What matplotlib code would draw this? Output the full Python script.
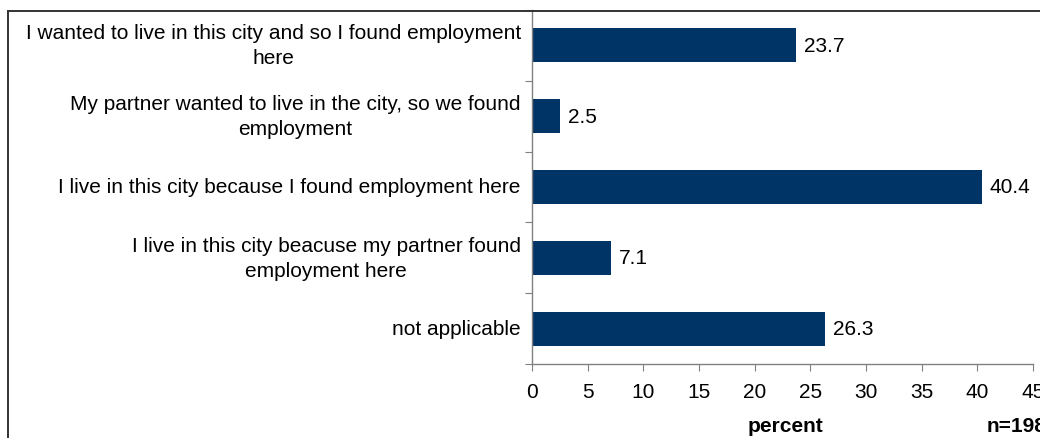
import matplotlib
matplotlib.use("Agg")
import matplotlib.pyplot as plt
from matplotlib.lines import Line2D

plt.rcParams['font.family'] = ['Liberation Sans', 'DejaVu Sans']

categories = [
    "I wanted to live in this city and so I found employment\nhere",
    "My partner wanted to live in the city, so we found\nemployment",
    "I live in this city because I found employment here",
    "I live in this city beacuse my partner found\nemployment here",
    "not applicable",
]
percent = [23.7, 2.5, 40.4, 7.1, 26.3]
n_resp = 198

W, H = 1040, 439
fs = 15
fig = plt.figure(figsize=(W / 100, H / 100), dpi=100)

# outer frame (top and left edges, the rest runs off the image)
fig.add_artist(Line2D([8 / W, 1.0], [1 - 12 / H, 1 - 12 / H], color="#333333", lw=1.4))
fig.add_artist(Line2D([8 / W, 8 / W], [0, 1 - 12 / H], color="#333333", lw=1.4))

ax = fig.add_axes([532 / W, 1 - 365 / H, 501 / W, 354 / H])

y = list(range(len(categories)))
ax.barh(y, percent, height=0.48, color="#003366")
for yi, v in zip(y, percent):
    ax.text(v + 0.7, yi, f"{v:.1f}", va="center", ha="left", fontsize=fs)

ax.set_xlim(0, 45)
ax.set_ylim(len(categories) - 0.5, -0.5)
ax.set_xticks(range(0, 46, 5))
ax.tick_params(axis="x", labelsize=fs, length=5, color="#808080", pad=8)

# category labels sit between boundary ticks
ax.set_yticks([i - 0.5 for i in range(len(categories) + 1)])
ax.set_yticklabels([])
ax.tick_params(axis="y", length=5, color="#808080")
for yi, lab in zip(y, categories):
    ax.text(-1.0, yi, lab, ha="right", va="center", multialignment="center",
            fontsize=fs, linespacing=1.4, clip_on=False)

for s in ("top", "right"):
    ax.spines[s].set_visible(False)
for s in ("left", "bottom"):
    ax.spines[s].set_color("#808080")
    ax.spines[s].set_linewidth(1.0)

fig.text(785 / W, 1 - 427 / H, "percent", ha="center", va="center",
         fontsize=fs, fontweight="bold")
fig.text(987 / W, 1 - 427 / H, f"n={n_resp}", ha="left", va="center",
         fontsize=fs, fontweight="bold")

fig.savefig("out.png", dpi=100)
